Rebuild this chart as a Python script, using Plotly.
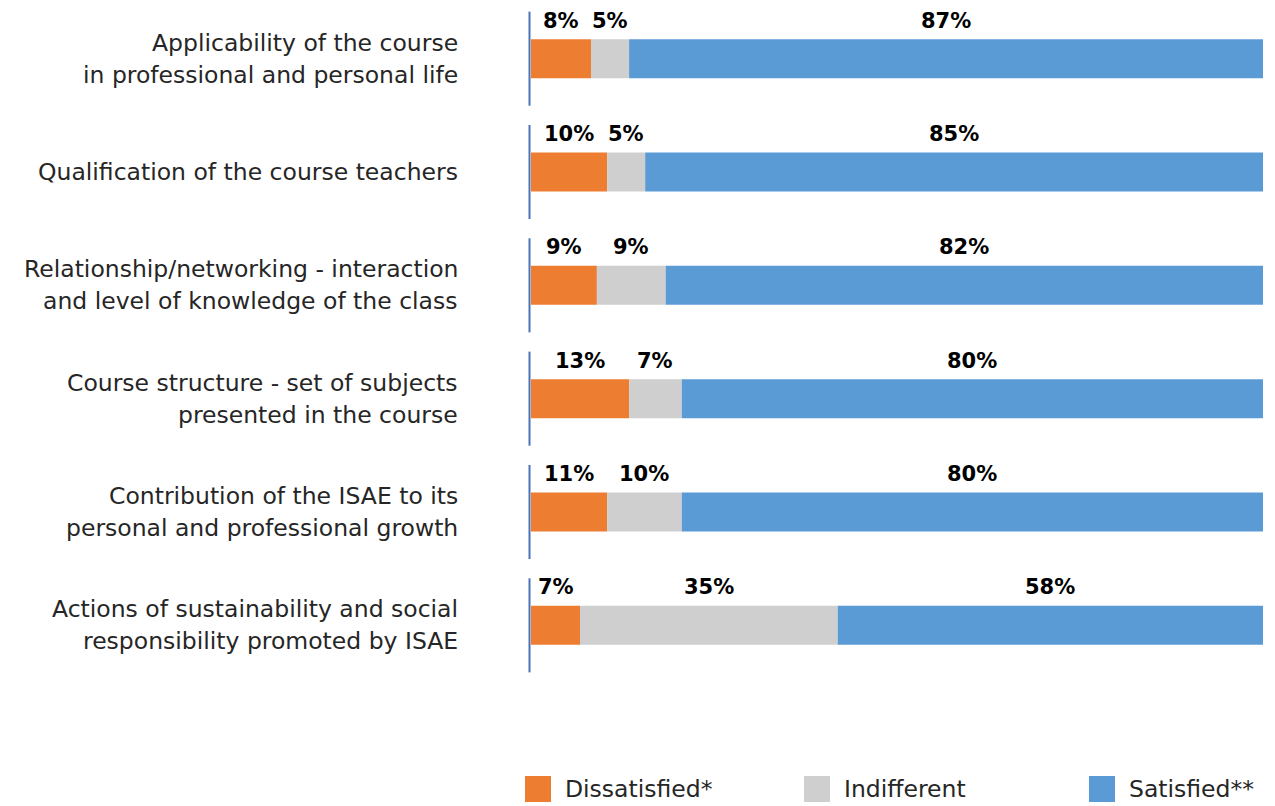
import plotly.graph_objects as go

# 카테고리 (위 → 아래), 줄바꿈은 원본 그대로
categories = [
    ["Applicability of the course", "in professional and personal life"],
    ["Qualification of the course teachers"],
    ["Relationship/networking - interaction", "and level of knowledge of the class"],
    ["Course structure - set of subjects", "presented in the course"],
    ["Contribution of the ISAE to its", "personal and professional growth"],
    ["Actions of sustainability and social", "responsibility promoted by ISAE"],
]

# 막대 길이 (그림에서 읽은 값, %)
dissatisfied = [8.2, 10.4, 9.0, 13.4, 10.4, 6.7]
indifferent = [5.2, 5.2, 9.4, 7.2, 10.2, 35.2]
satisfied = [86.6, 84.4, 81.6, 79.4, 79.4, 58.1]

# 막대 위 라벨
dissatisfied_lbl = ["8%", "10%", "9%", "13%", "11%", "7%"]
indifferent_lbl = ["5%", "5%", "9%", "7%", "10%", "35%"]
satisfied_lbl = ["87%", "85%", "82%", "80%", "80%", "58%"]

series = [
    ("Dissatisfied*", dissatisfied, dissatisfied_lbl, "#ED7D31"),
    ("Indifferent", indifferent, indifferent_lbl, "#CFCFCF"),
    ("Satisfied**", satisfied, satisfied_lbl, "#5B9BD5"),
]

FONT = "DejaVu Sans"
W, H = 1275, 806
L, R, T, B = 531, 12, 2, 124
PW, PH = W - L - R, H - T - B


def px_x(x):
    return (x - L) / PW


def px_y(y):
    return (H - B - y) / PH


keys = [str(i) for i in range(len(categories))]

fig = go.Figure()
base = [0.0] * len(keys)
for name, vals, lbls, color in series:
    fig.add_trace(go.Bar(
        y=keys, x=vals, base=base, orientation="h",
        name=name, marker=dict(color=color, line=dict(width=0)),
        width=0.344, showlegend=False, hoverinfo="skip",
    ))
    # 구간 중앙 위에 굵은 라벨
    for k, v, b, t in zip(keys, vals, base, lbls):
        fig.add_annotation(
            x=b + v / 2, y=k, text=f"<b>{t}</b>", showarrow=False,
            yshift=38, font=dict(family=FONT, size=21, color="#000000"),
        )
    base = [b + v for b, v in zip(base, vals)]

# 카테고리 라벨 (오른쪽 정렬)
for k, lines in zip(keys, categories):
    n = len(lines)
    for j, line in enumerate(lines):
        fig.add_annotation(
            x=px_x(460), xref="paper", y=k, yref="y",
            text=line, showarrow=False, xanchor="right",
            yshift=16 * (n - 1) - 32 * j,
            font=dict(family=FONT, size=23.5, color="#262626"),
        )
    # 카테고리별 세로 축선
    fig.add_shape(
        type="line", xref="paper", yref="y",
        x0=px_x(529.5), x1=px_x(529.5),
        y0=int(k) - 0.415, y1=int(k) + 0.415,
        line=dict(color="#4A72B8", width=2),
    )

# 하단 범례
legend_pos = [525, 804, 1089]
for (name, _, _, color), lx in zip(series, legend_pos):
    fig.add_shape(
        type="rect", xref="paper", yref="paper",
        x0=px_x(lx), x1=px_x(lx + 26), y0=px_y(802), y1=px_y(776),
        fillcolor=color, line=dict(width=0),
    )
    fig.add_annotation(
        x=px_x(lx + 38), y=px_y(789), xref="paper", yref="paper",
        text=name, showarrow=False, xanchor="left", yanchor="middle",
        font=dict(family=FONT, size=23.5, color="#262626"),
    )

fig.update_xaxes(range=[0, 100], visible=False, fixedrange=True)
fig.update_yaxes(
    categoryorder="array", categoryarray=keys,
    range=[len(keys) - 0.5, -0.5], showticklabels=False,
    showgrid=False, zeroline=False, showline=False,
)
fig.update_layout(
    width=W, height=H, barmode="overlay",
    margin=dict(l=L, r=R, t=T, b=B),
    plot_bgcolor="white", paper_bgcolor="white",
    font=dict(family=FONT),
)

# 브라우저 기본 body 여백 제거
fig.write_html(
    "out.html",
    config={"displayModeBar": False},
    post_script="document.body.style.margin='0';",
)
